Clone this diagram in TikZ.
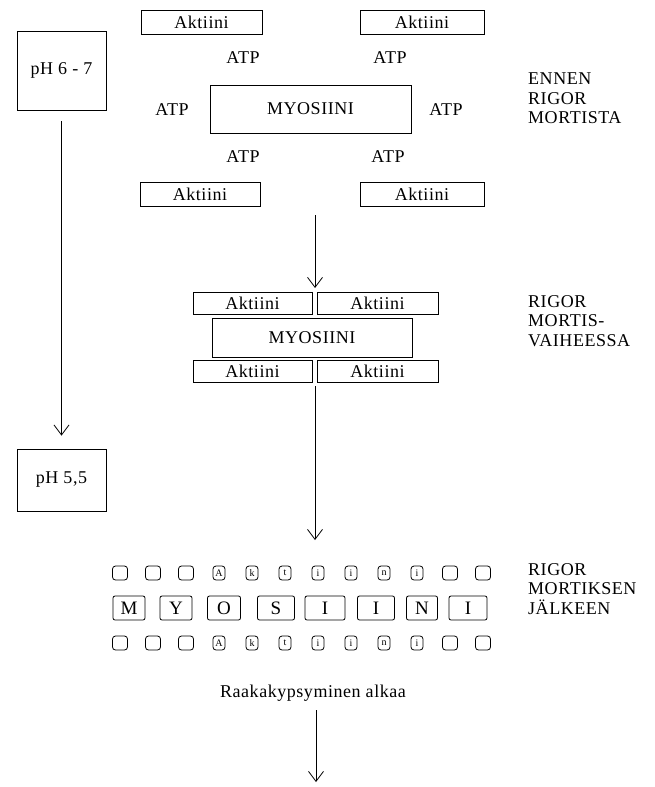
\documentclass[tikz,border=0pt]{standalone}
\usepackage{fontspec}
\setmainfont{Liberation Serif}[LetterSpace=3]
\usetikzlibrary{arrows.meta}
\begin{document}
\begin{tikzpicture}[x=1pt,y=-1pt,
  txt/.style={inner sep=0pt, font=\fontsize{18}{19}\selectfont},
  box/.style={txt, draw, line width=0.8pt},
  lbl/.style={txt, align=left, anchor=north west, font=\fontsize{18}{19.5}\selectfont},
  tiny/.style={draw, line width=0.8pt, rounded corners=3pt, inner sep=0pt, minimum height=14pt, font=\fontsize{10}{10}\selectfont},
  big/.style={draw, line width=0.8pt, rounded corners=2pt, inner sep=0pt, minimum height=24pt, font=\fontsize{19}{19}\selectfont},
  arr/.style={draw, line width=0.8pt, -{Straight Barb[length=10pt,width=15pt,line width=0.8pt]}}]
\useasboundingbox (0,0) rectangle (655,787);
\fill[white] (0,0) rectangle (655,787);

% ---- stage 1 ----
\node[box, minimum width=121pt, minimum height=24pt] (aTL) at (201.5,22) {Aktiini};
\node[box, minimum width=124pt, minimum height=24pt] (aTR) at (422,22) {Aktiini};
\node[box, minimum width=89pt, minimum height=79pt] (ph1) at (61.5,70.5) {pH 6 - 7};
\node[txt] (atp1) at (243,58) {ATP};
\node[txt] (atp2) at (390,58) {ATP};
\node[txt] (atp3) at (172,110) {ATP};
\node[txt] (atp4) at (446,110) {ATP};
\node[box, minimum width=201pt, minimum height=48pt] (myo1) at (310.5,109) {MYOSIINI};
\node[txt] (atp5) at (243,157) {ATP};
\node[txt] (atp6) at (388,157) {ATP};
\node[box, minimum width=120pt, minimum height=24pt] (aBL) at (200,194) {Aktiini};
\node[box, minimum width=124pt, minimum height=24pt] (aBR) at (422,194) {Aktiini};
\node[lbl] (lab1) at (528,73) {ENNEN\\RIGOR\\MORTISTA};

% ---- pH arrow ----
\node[box, minimum width=89pt, minimum height=62pt] (ph2) at (61.5,480) {pH 5,5};
\draw[arr] ([yshift=-11pt]ph1.south) -- ([yshift=13pt]ph2.north);

% ---- arrow 1 ----
\coordinate (s1) at (315,215);
\coordinate (e1) at (315,288);
\draw[arr] (s1) -- (e1);

% ---- stage 2 ----
\node[box, minimum width=119pt, minimum height=22pt] (b2TL) at (252.5,303) {Aktiini};
\node[box, minimum width=121pt, minimum height=22pt] (b2TR) at (377.5,303) {Aktiini};
\node[box, minimum width=200pt, minimum height=39pt] (myo2) at (312,337.5) {MYOSIINI};
\node[box, minimum width=119pt, minimum height=22pt] (b2BL) at (252.5,371.5) {Aktiini};
\node[box, minimum width=121pt, minimum height=22pt] (b2BR) at (377.5,371.5) {Aktiini};
\node[lbl] (lab2) at (528,295) {RIGOR\\MORTIS-\\VAIHEESSA};

% ---- arrow 2 ----
\coordinate (s2) at (315,386);
\coordinate (e2) at (315,540);
\draw[arr] (s2) -- (e2);

% ---- stage 3 ----
\foreach \i/\l/\w in {0/{}/15,1/{}/15,2/{}/15,3/A/12,4/k/12,5/t/12,6/i/12,7/i/12,8/n/12,9/i/12,10/{}/15,11/{}/15}{
  \node[tiny, minimum width=\w pt] (r1-\i) at ({120+33*\i},573) {\l};
  \node[tiny, minimum width=\w pt] (r3-\i) at ({120+33*\i},643) {\l};
}
\foreach \c/\l/\w [count=\k] in {129/M/32,176/Y/32,224/O/33,276/S/37,325/I/40,376/I/37,422/N/31,468/I/38}{
  \node[big, minimum width=\w pt] (m\k) at (\c,608) {\l};
}
\node[lbl] (lab3) at (528,563) {RIGOR\\MORTIKSEN\\JÄLKEEN};

\node[txt] (raw) at (313,693) {Raakakypsyminen alkaa};
\coordinate (s3) at (316,710);
\coordinate (e3) at (316,782);
\draw[arr] (s3) -- (e3);
\end{tikzpicture}
\end{document}
